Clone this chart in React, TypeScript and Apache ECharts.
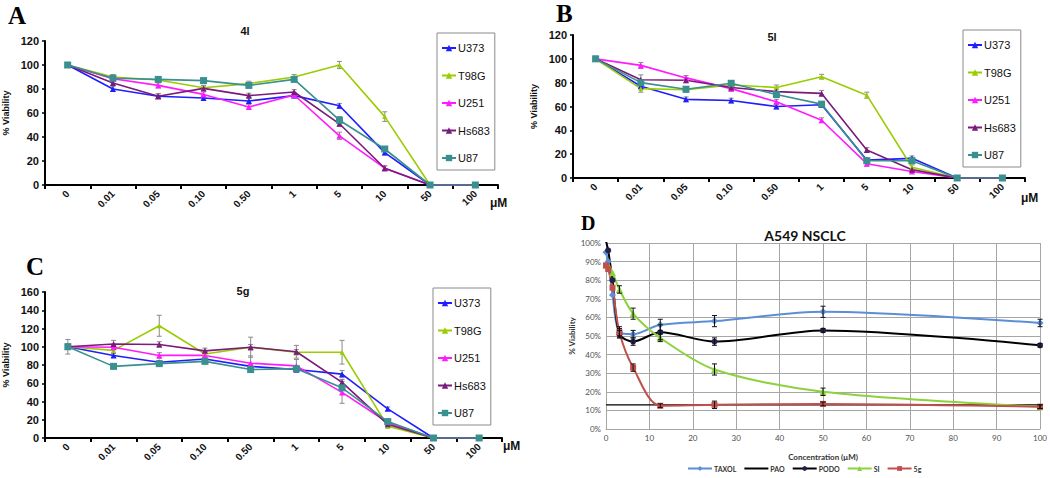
import React, { useEffect, useRef } from "react";
import * as echarts from "echarts";

// ---------- Panels A, B, C ----------
const categories = ["0", "0.01", "0.05", "0.10", "0.50", "1", "5", "10", "50", "100"];
const cellLines = ["U373", "T98G", "U251", "Hs683", "U87"];
const lineColors = ["#1E1EFF", "#9ACD00", "#FF1AFF", "#7A1A7A", "#3A8F8F"];
const lineSymbols = ["triangle", "triangle", "triangle", "triangle", "rect"];

// Panel A (4l)
const a_U373 = [100, 80, 74, 72.5, 70, 74.5, 66, 27, 0, 0];
const a_T98G = [100, 90, 87.5, 81, 84.5, 90, 100, 57, 0, 0];
const a_U251 = [100, 88.5, 83, 75.5, 65, 75, 41, 14, 0, 0];
const a_Hs683 = [100, 85, 74, 80.5, 74.5, 77.5, 51, 14, 0, 0];
const a_U87 = [100, 89, 88, 87, 83, 88, 54, 30, 0, 0];
const a_errU373 = [2, 2, 2, 2, 2, 2, 2, 2, 0, 0];
const a_errT98G = [2, 2, 2, 2, 2, 2, 3, 4, 0, 0];
const a_errU251 = [2, 2, 2, 2, 2, 2, 3, 2, 0, 0];
const a_errHs683 = [2, 2, 2, 2, 2, 2, 2, 2, 0, 0];
const a_errU87 = [2, 2, 2, 2, 2, 2, 3, 2, 0, 0];

// Panel B (5l)
const b_U373 = [100, 77, 66, 65, 60, 61.5, 15, 16.5, 0, 0];
const b_T98G = [100, 75, 74, 78, 76, 85, 69.5, 9, 0, 0];
const b_U251 = [100, 94.5, 84, 75, 64, 48.5, 12, 5.5, 0, 0];
const b_Hs683 = [100, 82.5, 82, 76, 72.5, 71, 23.5, 7, 0, 0];
const b_U87 = [100, 80, 74.5, 79.5, 70, 62, 14.5, 14.5, 0, 0];
const b_errU373 = [2, 2, 2, 2, 2, 2, 2, 2, 0, 0];
const b_errT98G = [2, 3, 2, 2, 2, 2, 2.5, 2, 0, 0];
const b_errU251 = [2, 2.5, 2, 2, 2, 2, 2, 1, 0, 0];
const b_errHs683 = [2, 4, 2, 2, 3, 2.5, 2, 1, 0, 0];
const b_errU87 = [2, 2, 2, 2, 2, 2, 2, 2, 0, 0];

// Panel C (5g)
const c_U373 = [100, 90.5, 83, 86.5, 78.5, 75, 70, 32, 0, 0];
const c_T98G = [100, 96, 123, 92, 99.5, 94, 94, 13, 0, 0];
const c_U251 = [100, 99.5, 90.5, 90.5, 82, 79, 50, 17, 0, 0];
const c_Hs683 = [100, 103, 102.5, 95.5, 99.5, 94.5, 61, 15, 0, 0];
const c_U87 = [100, 78.5, 81.5, 84, 75, 76, 55, 18, 0, 0];
const c_errU373 = [2, 2, 2, 2, 2, 2, 4, 2, 0, 0];
const c_errT98G = [3, 3, 11.5, 3, 3, 3, 13, 2, 0, 0];
const c_errU251 = [3, 2, 3, 3, 8, 7, 12, 2, 0, 0];
const c_errHs683 = [3, 4, 3, 3, 11, 7, 3, 2, 0, 0];
const c_errU87 = [8, 2, 2, 2, 2, 2, 3, 2, 0, 0];

// ---------- Panel D (A549 NSCLC) ----------
const dConc = [0, 0.5, 1.5, 3.1, 6.25, 12.5, 25, 50, 100];
const dTaxol = [95, 90, 72, 52, 51, 56, 58, 63, 57];
const dTaxolErr = [2, 2, 2, 3, 2, 3, 3, 3, 2];
const dPodo = [101, 96, 80, 51, 47, 52, 47, 53, 45];
const dPodoErr = [1, 2, 2, 2, 2, 4, 2, 1, 1];
const dSI = [88, 88, 84, 75, 62, 49, 32, 20, 12];
const dSIErr = [2, 2, 2, 2, 3, 2, 3, 2, 1];
const d5g = [88, 86, 76, 52, 33, 12.5, 13, 13.5, 12];
const d5gErr = [2, 2, 2, 2, 2, 1, 2, 1, 1];
const dPaoX = [0, 100];
const dPao = [13, 13];
const dYTicks = ["0%", "10%", "20%", "30%", "40%", "50%", "60%", "70%", "80%", "90%", "100%"];

const SANS = "'Liberation Sans', Arial, sans-serif";

function errRender(color: string, cap: number) {
  return (params: any, api: any) => {
    const x = api.value(0);
    const p1 = api.coord([x, api.value(1)]);
    const p2 = api.coord([x, api.value(2)]);
    const st = { stroke: color, lineWidth: 1 };
    return {
      type: "group",
      children: [
        { type: "line", shape: { x1: p1[0], y1: p1[1], x2: p2[0], y2: p2[1] }, style: st },
        { type: "line", shape: { x1: p1[0] - cap, y1: p1[1], x2: p1[0] + cap, y2: p1[1] }, style: st },
        { type: "line", shape: { x1: p2[0] - cap, y1: p2[1], x2: p2[0] + cap, y2: p2[1] }, style: st },
      ],
    };
  };
}

function panelSeries(idx: number, values: number[][], errs: number[][]) {
  const out: any[] = [];
  const errData: number[][] = [];
  values.forEach((v, i) => {
    out.push({
      type: "line",
      name: cellLines[i],
      xAxisIndex: idx,
      yAxisIndex: idx,
      data: v,
      color: lineColors[i],
      symbol: lineSymbols[i],
      symbolSize: i === 4 ? 7 : i === 1 ? 5 : 6,
      lineStyle: { width: 1.6, color: lineColors[i] },
      itemStyle: { color: lineColors[i] },
      z: 3,
    });
    v.forEach((y, j) => {
      const e = errs[i][j];
      if (e > 0) errData.push([j, y - e, y + e]);
    });
  });
  out.push({
    type: "custom",
    xAxisIndex: idx,
    yAxisIndex: idx,
    data: errData,
    renderItem: errRender("#8a8a8a", 2.5),
    encode: { x: 0, y: [1, 2] },
    silent: true,
    z: 2,
  });
  return out;
}

function catX(idx: number) {
  return {
    type: "category",
    gridIndex: idx,
    data: categories,
    boundaryGap: true,
    axisLine: { lineStyle: { color: "#000", width: 2 } },
    axisTick: { show: true, length: 4, lineStyle: { color: "#000", width: 2 }, alignWithLabel: false },
    axisLabel: { rotate: 45, interval: 0, margin: 7, fontFamily: SANS, fontWeight: "bold", fontSize: 10, color: "#111" },
    splitLine: { show: false },
  };
}

function valY(idx: number, max: number) {
  return {
    type: "value",
    gridIndex: idx,
    min: 0,
    max,
    interval: 20,
    name: "% Viability",
    nameLocation: "middle",
    nameGap: 35,
    nameRotate: 90,
    nameTextStyle: { fontFamily: SANS, fontWeight: "bold", fontSize: 9, color: "#111" },
    axisLine: { show: true, lineStyle: { color: "#000", width: 2 } },
    axisTick: { show: true, length: 3, lineStyle: { color: "#000", width: 1.5 } },
    axisLabel: { margin: 6, fontFamily: SANS, fontWeight: "bold", fontSize: 11, color: "#111" },
    splitLine: { show: false },
  };
}

function cellLegend(left: number, top: number) {
  return {
    orient: "vertical",
    left,
    top,
    data: cellLines,
    itemWidth: 14,
    itemHeight: 8,
    itemGap: 14.5,
    padding: [8.5, 5, 5.5, 4],
    borderColor: "#8a8a8a",
    borderWidth: 1,
    backgroundColor: "#fff",
    textStyle: { fontFamily: SANS, fontSize: 11, color: "#111", lineHeight: 13, padding: [0, 0, 0, -3] },
  };
}

function dSeriesData(xs: number[], ys: number[]) {
  return xs.map((x, i) => [x, ys[i]]);
}
function dErrData(xs: number[], ys: number[], es: number[]) {
  return xs.map((x, i) => [x, ys[i] - es[i], ys[i] + es[i]]);
}

export default function App() {
  const ref = useRef<HTMLDivElement>(null);
  useEffect(() => {
    if (!ref.current) return;
    const chart = echarts.init(ref.current, null, { renderer: "svg" });
    const dErrs = [
      ...dErrData(dConc, dTaxol, dTaxolErr),
      ...dErrData(dConc, dPodo, dPodoErr),
      ...dErrData(dConc, dSI, dSIErr),
      ...dErrData(dConc, d5g, d5gErr),
    ].filter((d) => d[0] > 2);
    const dAxisLabel = { fontFamily: "Lato, sans-serif", fontSize: 8, color: "#505050" };
    const option: any = {
      animation: false,
      backgroundColor: "#fff",
      title: [
        { text: "4l", left: 240, top: 20, textAlign: "center", textStyle: { fontFamily: SANS, fontSize: 11, fontWeight: "bold", color: "#111" } },
        { text: "5l", left: 767, top: 26, textAlign: "center", textStyle: { fontFamily: SANS, fontSize: 11, fontWeight: "bold", color: "#111" } },
        { text: "5g", left: 238, top: 280, textAlign: "center", textStyle: { fontFamily: SANS, fontSize: 11, fontWeight: "bold", color: "#111" } },
        { text: "A549 NSCLC", left: 800, top: 223, textAlign: "center", textStyle: { fontFamily: "Lato, sans-serif", fontSize: 14, fontWeight: "bold", color: "#111" } },
      ],
      grid: [
        { left: 42, top: 41, width: 456, height: 144 },
        { left: 573, top: 35, width: 452, height: 143 },
        { left: 43, top: 292, width: 459, height: 146 },
        { left: 606, top: 243, width: 436, height: 186 },
      ],
      xAxis: [
        catX(0),
        catX(1),
        catX(2),
        {
          type: "value",
          gridIndex: 3,
          min: 0,
          max: 100,
          interval: 10,
          name: "Concentration (μM)",
          nameLocation: "middle",
          nameGap: 24,
          nameTextStyle: { fontFamily: "Lato, sans-serif", fontSize: 8, fontWeight: "bold", color: "#333" },
          axisLine: { show: true, lineStyle: { color: "#a6a6a6" } },
          axisTick: { show: false },
          axisLabel: { ...dAxisLabel, margin: 5 },
          splitLine: { show: true, lineStyle: { color: "#a6a6a6", width: 1 } },
        },
      ],
      yAxis: [
        valY(0, 120),
        valY(1, 120),
        valY(2, 160),
        {
          type: "value",
          gridIndex: 3,
          min: 0,
          max: 100,
          interval: 10,
          name: "% Viability",
          nameLocation: "middle",
          nameGap: 30,
          nameRotate: 90,
          nameTextStyle: { fontFamily: "Lato, sans-serif", fontSize: 8, fontWeight: "bold", color: "#333" },
          axisLine: { show: true, lineStyle: { color: "#a6a6a6" } },
          axisTick: { show: false },
          axisLabel: { ...dAxisLabel, margin: 5, formatter: (v: number) => dYTicks[Math.round(v / 10)] },
          splitLine: { show: true, lineStyle: { color: "#a6a6a6", width: 1 } },
        },
      ],
      legend: [
        cellLegend(437, 33),
        cellLegend(963, 30),
        cellLegend(433, 288),
        {
          orient: "horizontal",
          left: 687,
          top: 465,
          data: ["TAXOL", "PAO", "PODO", "SI", "5g"],
          itemWidth: 24,
          itemHeight: 6,
          itemGap: 7,
          padding: 0,
          textStyle: { fontFamily: "Lato, sans-serif", fontSize: 7, fontWeight: "bold", color: "#333", padding: [0, 0, 0, -3] },
        },
      ],
      series: [
        ...panelSeries(0, [a_U373, a_T98G, a_U251, a_Hs683, a_U87], [a_errU373, a_errT98G, a_errU251, a_errHs683, a_errU87]),
        ...panelSeries(1, [b_U373, b_T98G, b_U251, b_Hs683, b_U87], [b_errU373, b_errT98G, b_errU251, b_errHs683, b_errU87]),
        ...panelSeries(2, [c_U373, c_T98G, c_U251, c_Hs683, c_U87], [c_errU373, c_errT98G, c_errU251, c_errHs683, c_errU87]),
        {
          type: "line", name: "PAO", xAxisIndex: 3, yAxisIndex: 3,
          data: dSeriesData(dPaoX, dPao), symbol: "circle", showSymbol: false, symbolSize: 0,
          lineStyle: { color: "#000", width: 1.2 }, itemStyle: { color: "rgba(0,0,0,0)" }, z: 3,
        },
        {
          type: "line", name: "TAXOL", xAxisIndex: 3, yAxisIndex: 3, smooth: 0.3,
          data: dSeriesData(dConc, dTaxol), symbol: "diamond", symbolSize: 7,
          lineStyle: { color: "#5B8ED6", width: 2 }, itemStyle: { color: "#5B8ED6" }, z: 4,
        },
        {
          type: "line", name: "PODO", xAxisIndex: 3, yAxisIndex: 3, smooth: 0.3,
          data: dSeriesData(dConc, dPodo), symbol: "circle", symbolSize: 6,
          lineStyle: { color: "#000", width: 2 }, itemStyle: { color: "#22224f" }, z: 4,
        },
        {
          type: "line", name: "SI", xAxisIndex: 3, yAxisIndex: 3, smooth: 0.3,
          data: dSeriesData(dConc, dSI), symbol: "triangle", symbolSize: 7,
          lineStyle: { color: "#8CD23A", width: 2 }, itemStyle: { color: "#8CD23A" }, z: 4,
        },
        {
          type: "line", name: "5g", xAxisIndex: 3, yAxisIndex: 3, smooth: 0.3,
          data: dSeriesData(dConc, d5g), symbol: "rect", symbolSize: 6,
          lineStyle: { color: "#C0504D", width: 2 }, itemStyle: { color: "#C0504D" }, z: 4,
        },
        {
          type: "custom", xAxisIndex: 3, yAxisIndex: 3, data: dErrs,
          renderItem: errRender("#111", 2.5), encode: { x: 0, y: [1, 2] }, silent: true, z: 5,
        },
      ],
      graphic: [
        { type: "text", left: 8, top: 3, style: { text: "A", font: "bold 25px 'Liberation Serif', serif", fill: "#000" } },
        { type: "text", left: 556, top: 1, style: { text: "B", font: "bold 25px 'Liberation Serif', serif", fill: "#000" } },
        { type: "text", left: 26, top: 254, style: { text: "C", font: "bold 25px 'Liberation Serif', serif", fill: "#000" } },
        { type: "text", left: 581, top: 213, style: { text: "D", font: "bold 20px 'Liberation Serif', serif", fill: "#000" } },
        { type: "text", left: 490, top: 197, style: { text: "μM", font: "bold 12px 'Liberation Sans', Arial, sans-serif", fill: "#111" } },
        { type: "text", left: 1021, top: 192, style: { text: "μM", font: "bold 12px 'Liberation Sans', Arial, sans-serif", fill: "#111" } },
        { type: "text", left: 503, top: 440, style: { text: "μM", font: "bold 12px 'Liberation Sans', Arial, sans-serif", fill: "#111" } },
      ],
    };
    chart.setOption(option);
    return () => chart.dispose();
  }, []);
  return <div ref={ref} style={{ position: "absolute", left: 0, top: 0, width: 1050, height: 478 }} />;
}
